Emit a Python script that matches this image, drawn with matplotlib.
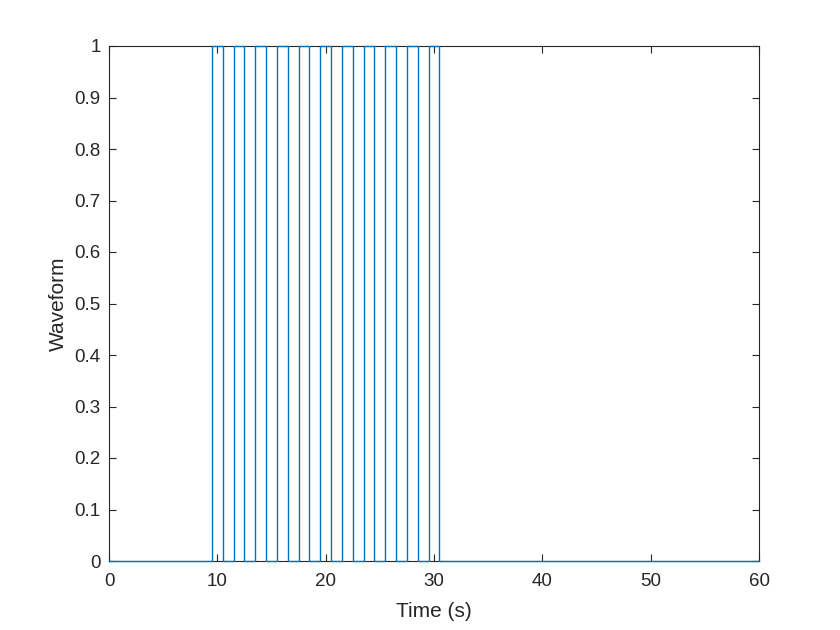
import matplotlib
matplotlib.use("Agg")
import matplotlib.pyplot as plt
import numpy as np

# Pulse data (seconds)
pulse_starts = [9.5, 11.5, 13.5, 15.5, 17.5, 19.5, 21.5, 23.5, 25.5, 27.5, 29.5]
pulse_width = 1.0
t_start = 0
t_end = 60
x_ticks = [0, 10, 20, 30, 40, 50, 60]
y_ticks = [0, 0.1, 0.2, 0.3, 0.4, 0.5, 0.6, 0.7, 0.8, 0.9, 1]
y_tick_labels = ["0", "0.1", "0.2", "0.3", "0.4", "0.5", "0.6", "0.7", "0.8", "0.9", "1"]

# Build the step waveform from pulse edges
t = [t_start]
y = [0]
for s in pulse_starts:
    e = s + pulse_width
    t += [s, s, e, e]
    y += [0, 1, 1, 0]
t.append(t_end)
y.append(0)

plt.rcParams['font.family'] = ['Liberation Sans', 'DejaVu Sans']
fig = plt.figure(figsize=(8.4, 6.3), dpi=100)
ax = fig.add_axes([109/840, 1 - 561/630, 650/840, 515/630])
ax.plot(t, y, color='#0072BD', linewidth=1.0, zorder=3, clip_on=False)
ax.set_xlim(t_start, t_end)
ax.set_ylim(0, 1)
ax.set_xticks(x_ticks)
ax.set_yticks(y_ticks)
ax.set_yticklabels(y_tick_labels)
axc = '#262626'
ax.tick_params(direction='in', top=True, right=True, length=5, width=0.8,
               labelsize=13.5, colors=axc)
ax.tick_params(axis='x', pad=9)
ax.tick_params(axis='y', pad=6)
for sp in ax.spines.values():
    sp.set_color(axc)
    sp.set_linewidth(0.8)
ax.set_xlabel('Time (s)', fontsize=15, color=axc, labelpad=8)
ax.set_ylabel('Waveform', fontsize=15, color=axc, labelpad=5)
fig.savefig('out.png', dpi=100, facecolor='white')
